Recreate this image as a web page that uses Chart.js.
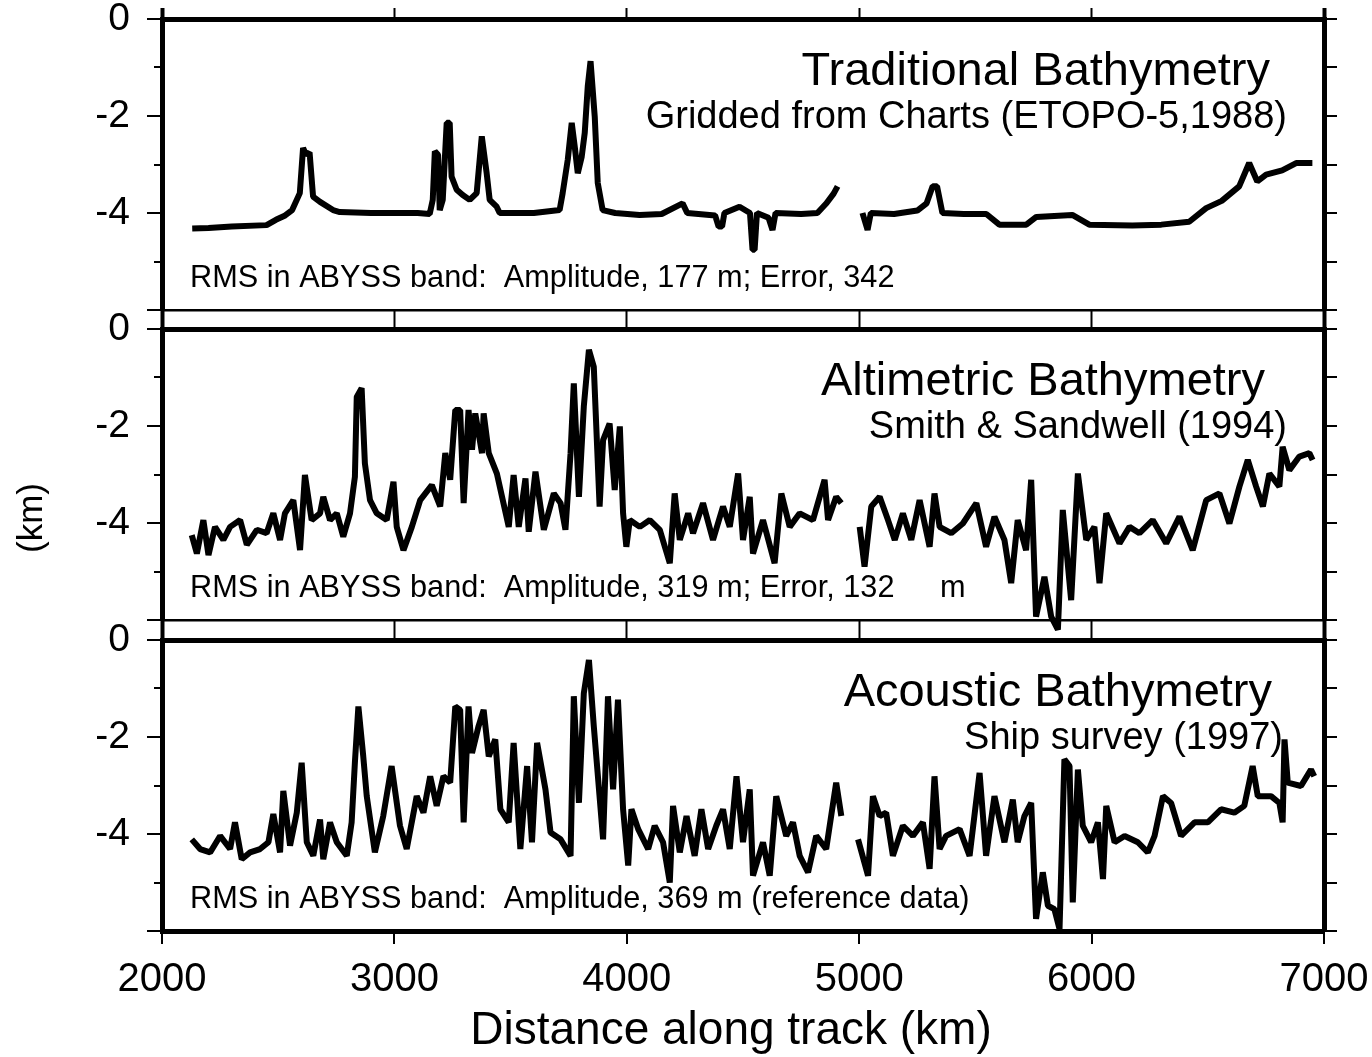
<!DOCTYPE html>
<html>
<head>
<meta charset="utf-8">
<script src="https://cdn.jsdelivr.net/npm/chart.js@4.4.0/dist/chart.umd.min.js"></script>
<style>
  html, body { margin: 0; padding: 0; background: #fff; }
  body { width: 1372px; height: 1057px; position: relative; overflow: hidden; }
  canvas { position: absolute; left: 0; }
</style>
</head>
<body>
<canvas id="p1" width="1372" height="312" style="top:0px"></canvas>
<canvas id="p2" width="1372" height="324" style="top:310px"></canvas>
<canvas id="p3" width="1372" height="436" style="top:621px"></canvas>
<script>
// ticks
const xTicks = [2000, 3000, 4000, 5000, 6000, 7000];
const yMajor = [0, -2, -4, -6];
const yMinor = [-1, -3, -5];
const yAll = [0, -1, -2, -3, -4, -5, -6];
const yLabels = [0, -2, -4];

// Traditional bathymetry (ETOPO-5) -- km along track / depth km, null = gap
const tradKm = [2130, 2200, 2300, 2450, 2490, 2530, 2560, 2593, 2607, 2620, 2635, 2650, 2680, 2736, 2765,
  2900, 3000, 3100, 3152, 3165, 3174, 3188, 3195, 3208, 3225, 3238, 3246, 3268, 3294, 3324, 3354, 3376,
  3397, 3410, 3440, 3453, 3600, 3711, 3724, 3746, 3763, 3776, 3789, 3806, 3819, 3832, 3844, 3862, 3875,
  3896, 3950, 4055, 4150, 4240, 4260, 4380, 4395, 4410, 4420, 4485, 4530, 4541, 4550, 4560, 4610, 4627,
  4640, 4750, 4820, 4859, 4890, 4907, 4960, 5014, 5036, 5050, 5150, 5250, 5290, 5316, 5335, 5358, 5450,
  5547, 5603, 5719, 5762, 5917, 5990, 6175, 6300, 6420, 6493, 6560, 6635, 6678, 6713, 6751, 6820, 6880, 6950];
const tradDepth = [-4.32, -4.31, -4.28, -4.25, -4.14, -4.05, -3.94, -3.59, -2.66, -2.8, -2.75, -3.66, -3.77, -3.94, -3.98,
  -4.0, -4.0, -4.0, -4.02, -3.73, -2.73, -2.8, -3.94, -3.73, -2.14, -2.14, -3.25, -3.52, -3.63, -3.73, -3.59, -2.42,
  -3.18, -3.73, -3.87, -4.0, -4.0, -3.94, -3.59, -2.9, -2.14, -2.63, -3.18, -2.84, -2.35, -1.39, -0.87, -2.01, -3.38,
  -3.94, -4.0, -4.04, -4.02, -3.8, -4.0, -4.05, -4.28, -4.28, -4.0, -3.87, -4.0, -4.76, -4.76, -4.0, -4.1, -4.35,
  -4.0, -4.02, -4.0, -3.8, -3.6, -3.45, null, -4.0, -4.35, -4.0, -4.02, -3.95, -3.8, -3.45, -3.45, -4.0, -4.02,
  -4.02, -4.24, -4.24, -4.08, -4.04, -4.24, -4.26, -4.24, -4.18, -3.9, -3.75, -3.45, -2.97, -3.35, -3.21, -3.12, -2.97, -2.97];

// Altimetric bathymetry (Smith & Sandwell 1994)
const altiKm = [2128, 2150, 2178, 2200, 2228, 2264, 2293, 2336, 2365, 2408, 2450, 2479, 2508, 2529, 2565, 2594,
  2615, 2644, 2680, 2694, 2723, 2752, 2780, 2809, 2830, 2838, 2859, 2873, 2895, 2924, 2967, 2996, 3010, 3039,
  3075, 3111, 3161, 3197, 3219, 3240, 3262, 3283, 3298, 3319, 3334, 3348, 3377, 3384, 3406, 3441, 3492, 3513,
  3535, 3564, 3578, 3607, 3643, 3686, 3715, 3736, 3758, 3772, 3794, 3815, 3837, 3858, 3883, 3898, 3926, 3948,
  3970, 3984, 3998, 4013, 4056, 4099, 4142, 4185, 4206, 4228, 4264, 4285, 4328, 4371, 4414, 4443, 4479, 4500,
  4529, 4543, 4586, 4636, 4665, 4701, 4744, 4801, 4851, 4866, 4901, 4923, 4960, 5002, 5023, 5052, 5088, 5124,
  5153, 5188, 5224, 5260, 5303, 5324, 5346, 5396, 5446, 5504, 5546, 5582, 5625, 5654, 5682, 5718, 5740, 5761,
  5797, 5826, 5855, 5876, 5912, 5941, 5977, 6012, 6034, 6063, 6120, 6163, 6206, 6263, 6321, 6378, 6435, 6493,
  6550, 6593, 6636, 6672, 6708, 6737, 6765, 6808, 6822, 6851, 6894, 6937, 6951];
const altiDepth = [-4.25, -4.63, -3.94, -4.66, -4.08, -4.35, -4.08, -3.94, -4.45, -4.14, -4.21, -3.8, -4.35, -3.8, -3.53, -4.56,
  -3.01, -3.94, -3.8, -3.46, -3.94, -3.8, -4.28, -3.8, -3.05, -1.4, -1.22, -2.77, -3.53, -3.8, -3.94, -3.15, -4.08, -4.56,
  -4.08, -3.53, -3.22, -3.66, -2.56, -3.11, -1.67, -1.67, -3.59, -1.67, -2.49, -1.74, -2.56, -1.74, -2.56, -2.98, -4.08, -3.01,
  -4.08, -3.08, -4.18, -2.94, -4.14, -3.39, -3.59, -4.14, -2.56, -1.12, -3.46, -1.6, -0.43, -0.78, -3.66, -2.29, -1.95, -3.32,
  -2.01, -3.8, -4.49, -3.94, -4.08, -3.94, -4.14, -4.83, -3.39, -4.35, -3.8, -4.21, -3.59, -4.35, -3.66, -4.08, -2.98, -4.35,
  -3.46, -4.63, -3.94, -4.83, -3.39, -4.08, -3.8, -3.94, -3.11, -3.94, -3.46, -3.59, null, -4.08, -4.9, -3.66, -3.46, -3.94,
  -4.35, -3.8, -4.35, -3.53, -4.49, -3.39, -4.08, -4.21, -4.01, -3.59, -4.49, -3.87, -4.35, -5.24, -3.94, -4.56, -3.11, -5.93,
  -5.11, -5.93, -6.2, -3.73, -5.59, -2.98, -4.35, -4.08, -5.24, -3.8, -4.42, -4.08, -4.21, -3.94, -4.42, -3.87, -4.56, -3.53,
  -3.39, -4.01, -3.25, -2.7, -3.25, -3.66, -2.98, -3.25, -2.43, -2.91, -2.63, -2.56, -2.7];

// Acoustic bathymetry (ship survey 1997)
const acouKm = [2128, 2164, 2207, 2250, 2293, 2314, 2343, 2379, 2422, 2458, 2479, 2508, 2522, 2551, 2580, 2601,
  2623, 2651, 2680, 2694, 2723, 2752, 2795, 2816, 2830, 2845, 2866, 2881, 2916, 2952, 2988, 3024, 3053, 3096,
  3125, 3154, 3182, 3211, 3240, 3262, 3283, 3298, 3319, 3334, 3362, 3384, 3406, 3434, 3456, 3492, 3513, 3542,
  3571, 3592, 3614, 3650, 3672, 3715, 3758, 3772, 3794, 3815, 3837, 3858, 3898, 3919, 3941, 3962, 3984, 4006,
  4020, 4049, 4092, 4120, 4156, 4185, 4199, 4228, 4257, 4292, 4321, 4350, 4385, 4414, 4443, 4472, 4500, 4529,
  4543, 4586, 4615, 4643, 4686, 4715, 4744, 4780, 4815, 4858, 4901, 4923, 4960, 4995, 5038, 5059, 5088, 5116,
  5145, 5188, 5231, 5274, 5303, 5324, 5346, 5374, 5432, 5475, 5518, 5546, 5582, 5625, 5661, 5682, 5711, 5740,
  5761, 5790, 5812, 5840, 5862, 5883, 5905, 5919, 5941, 5962, 5998, 6027, 6049, 6063, 6099, 6142, 6199, 6242,
  6271, 6307, 6342, 6385, 6443, 6500, 6557, 6614, 6657, 6693, 6715, 6772, 6808, 6822, 6830, 6844, 6901, 6944, 6958];
const acouDepth = [-4.11, -4.31, -4.38, -4.04, -4.31, -3.76, -4.52, -4.38, -4.31, -4.17, -3.59, -4.38, -3.11, -4.24, -3.56, -2.53,
  -4.17, -4.45, -3.7, -4.52, -3.76, -4.17, -4.45, -3.76, -2.53, -1.37, -2.4, -3.22, -4.38, -3.63, -2.6, -3.83, -4.31, -3.22,
  -3.56, -2.81, -3.42, -2.81, -2.94, -1.37, -1.44, -3.76, -1.37, -2.33, -1.78, -1.44, -2.4, -2.05, -3.49, -3.76, -2.12, -4.31,
  -2.6, -4.17, -2.12, -3.08, -3.97, -4.11, -4.45, -1.16, -3.36, -1.1, -0.41, -1.78, -4.11, -1.16, -3.08, -1.23, -3.49, -4.65,
  -3.49, -3.9, -4.31, -3.83, -4.17, -5.0, -3.42, -4.38, -3.63, -4.45, -3.49, -4.31, -3.83, -3.49, -4.31, -2.81, -4.17, -3.08,
  -4.86, -4.17, -4.86, -3.22, -4.04, -3.76, -4.45, -4.79, -4.04, -4.31, -2.94, -3.63, null, -4.11, -4.86, -3.22, -3.63, -3.56,
  -4.45, -3.83, -4.04, -3.76, -4.72, -2.81, -4.31, -4.04, -3.9, -4.45, -2.74, -4.45, -3.22, -4.17, -3.29, -4.17, -3.63, -3.36,
  -5.75, -4.79, -5.48, -5.55, -5.96, -2.46, -2.6, -5.41, -2.67, -3.83, -4.17, -3.76, -4.93, -3.42, -4.17, -4.04, -4.17, -4.38,
  -4.04, -3.22, -3.36, -4.04, -3.76, -3.76, -3.49, -3.56, -3.42, -2.6, -3.22, -3.22, -3.36, -3.76, -2.05, -2.94, -3.01, -2.67, -2.81];

const FONT = '"Liberation Sans", Arial, Helvetica, sans-serif';
Chart.defaults.font.family = FONT;
Chart.defaults.color = '#000';

// panel captions, placed relative to the plot area
const panelText = {
  id: 'panelText',
  afterDraw(chart, args, o) {
    const ctx = chart.ctx;
    const top = chart.chartArea.top;
    ctx.save();
    ctx.fillStyle = '#000';
    ctx.textBaseline = 'alphabetic';
    ctx.textAlign = 'right';
    ctx.font = '47px ' + FONT;
    ctx.fillText(o.title, o.titleRight, top + 66);
    ctx.font = '38px ' + FONT;
    ctx.fillText(o.sub, o.subRight, top + 109);
    ctx.textAlign = 'left';
    ctx.font = '30.7px ' + FONT;
    ctx.fillText(o.rms, 190, top + 268);
    if (o.unit) ctx.fillText(o.unit, 940, top + 268);
    if (o.xTitle) {
      ctx.textAlign = 'center';
      ctx.font = '46px ' + FONT;
      ctx.fillText(o.xTitle, 731, chart.chartArea.bottom + 113);
    }
    if (o.yTitle) {
      ctx.translate(32, top + 189);
      ctx.rotate(-Math.PI / 2);
      ctx.textAlign = 'center';
      ctx.textBaseline = 'middle';
      ctx.font = '35px ' + FONT;
      ctx.fillText(o.yTitle, 0, 0);
    }
    ctx.restore();
  }
};

// keep the plot area exactly where the frame is: no extra room for label overhang
const noPad = s => { s.paddingTop = 0; s.paddingBottom = 0; s.paddingLeft = 0; s.paddingRight = 0; };

function makePanel(id, km, depth, text, bottom) {
  const pts = km.map((x, i) => ({x: x, y: depth[i]}));
  const fixTicks = vals => s => { s.ticks = vals.map(v => ({value: v})); };
  new Chart(document.getElementById(id), {
    type: 'line',
    data: {
      datasets: [{
        data: pts,
        borderColor: '#000',
        borderWidth: 6,
        borderJoinStyle: 'bevel',
        pointRadius: 0,
        tension: 0,
        spanGaps: false,
        clip: false
      }]
    },
    options: {
      responsive: false,
      animation: false,
      devicePixelRatio: 1,
      layout: {padding: {left: 0, right: 0, top: 0, bottom: bottom ? 0 : text.padBottom}},
      plugins: {legend: {display: false}, tooltip: {enabled: false}, panelText: text},
      scales: {
        x: {
          type: 'linear', position: 'bottom', min: 2000, max: 7000,
          afterBuildTicks: fixTicks(xTicks),
          ticks: {display: bottom, callback: v => String(v), font: {size: 40}, padding: 12,
                  maxRotation: 0, autoSkip: false},
          grid: {drawOnChartArea: false, drawTicks: bottom, tickLength: 13, color: '#000', lineWidth: 2},
          border: {display: true, color: '#000', width: bottom ? 5 : 2.5},
          afterFit: s => { noPad(s); s.height = bottom ? 126 : 2; }
        },
        xTop: {
          type: 'linear', position: 'top', min: 2000, max: 7000,
          afterBuildTicks: fixTicks(xTicks),
          ticks: {display: false},
          grid: {drawOnChartArea: false, tickLength: text.topTick, color: '#000',
                 tickWidth: c => (c.index === 0 || c.index === xTicks.length - 1) ? 4 : 2},
          border: {display: true, color: '#000', width: 5},
          afterFit: s => { noPad(s); s.height = 19; }
        },
        y: {
          type: 'linear', position: 'left', min: -6, max: 0, weight: 1,
          afterBuildTicks: fixTicks(yMajor),
          ticks: {callback: v => yLabels.includes(v) ? String(v) : '', font: {size: 39}, padding: 17},
          grid: {drawOnChartArea: false, tickLength: 15, color: '#000', lineWidth: 2},
          border: {display: true, color: '#000', width: 5},
          afterFit: s => { noPad(s); s.width = 162; }
        },
        yMin: {
          type: 'linear', position: 'left', min: -6, max: 0, weight: 0,
          afterBuildTicks: fixTicks(yMinor),
          ticks: {display: false},
          grid: {drawOnChartArea: false, tickLength: 8, color: '#000', lineWidth: 2},
          border: {display: false},
          afterFit: s => { noPad(s); s.width = 0; }
        },
        yR: {
          type: 'linear', position: 'right', min: -6, max: 0,
          afterBuildTicks: fixTicks(yAll),
          ticks: {display: false},
          grid: {drawOnChartArea: false, tickLength: 13, color: '#000', lineWidth: 2},
          border: {display: true, color: '#000', width: 5},
          afterFit: s => { noPad(s); s.width = 48; }
        }
      }
    },
    plugins: [panelText]
  });
}

makePanel('p1', tradKm, tradDepth, {
  title: 'Traditional Bathymetry', titleRight: 1270,
  sub: 'Gridded from Charts (ETOPO-5,1988)', subRight: 1287,
  rms: 'RMS in ABYSS band:  Amplitude, 177 m; Error, 342',
  topTick: 11, padBottom: 0
}, false);

makePanel('p2', altiKm, altiDepth, {
  title: 'Altimetric Bathymetry', titleRight: 1265,
  sub: 'Smith & Sandwell (1994)', subRight: 1287,
  rms: 'RMS in ABYSS band:  Amplitude, 319 m; Error, 132', unit: 'm',
  yTitle: '(km)',
  topTick: 19, padBottom: 12
}, false);

makePanel('p3', acouKm, acouDepth, {
  title: 'Acoustic Bathymetry', titleRight: 1272,
  sub: 'Ship survey (1997)', subRight: 1283,
  rms: 'RMS in ABYSS band:  Amplitude, 369 m (reference data)',
  xTitle: 'Distance along track (km)',
  topTick: 19, padBottom: 0
}, true);
</script>
</body>
</html>
